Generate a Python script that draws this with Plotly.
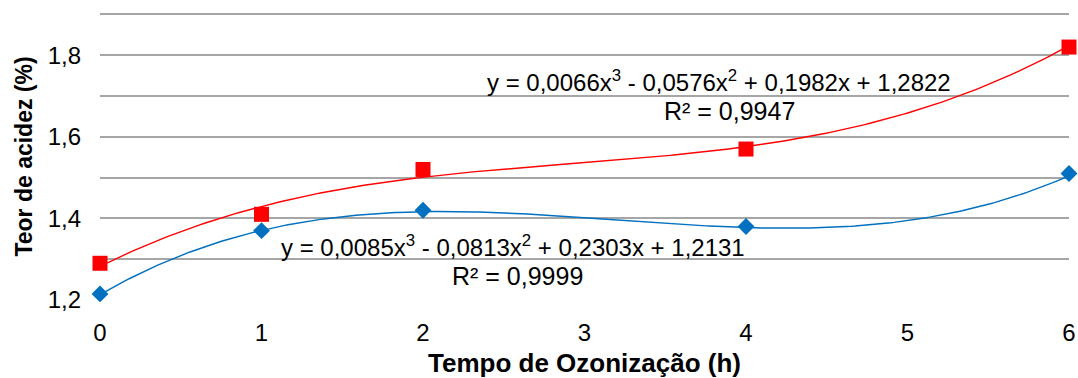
import numpy as np
import plotly.graph_objects as go

# Data
tempo = [0, 1, 2, 4, 6]
serie_vermelha = [1.29, 1.41, 1.52, 1.57, 1.82]
serie_azul = [1.215, 1.37, 1.42, 1.38, 1.51]

# Trendline coefficients (cubic, highest order first) as displayed on the chart
coef_vermelha = [0.0066, -0.0576, 0.1982, 1.2822]
coef_azul = [0.0085, -0.0813, 0.2303, 1.2131]

eq_vermelha = "y = 0,0066x<sup>3</sup> - 0,0576x<sup>2</sup> + 0,1982x + 1,2822"
r2_vermelha = "R² = 0,9947"
eq_azul = "y = 0,0085x<sup>3</sup> - 0,0813x<sup>2</sup> + 0,2303x + 1,2131"
r2_azul = "R² = 0,9999"

x_ticks = [0, 1, 2, 3, 4, 5, 6]
y_ticks = [1.2, 1.3, 1.4, 1.5, 1.6, 1.7, 1.8, 1.9]
y_tick_text = ["1,2", "", "1,4", "", "1,6", "", "1,8", ""]

RED = "#FF0000"
BLUE = "#0070C0"
FONT = "Liberation Sans, Arial, sans-serif"

xs = np.linspace(min(tempo), max(tempo), 300)

fig = go.Figure()
fig.add_trace(go.Scatter(x=xs, y=np.polyval(coef_vermelha, xs), mode="lines",
                         line=dict(color=RED, width=1.4), hoverinfo="skip", showlegend=False))
fig.add_trace(go.Scatter(x=xs, y=np.polyval(coef_azul, xs), mode="lines",
                         line=dict(color=BLUE, width=1.4), hoverinfo="skip", showlegend=False))
fig.add_trace(go.Scatter(x=tempo, y=serie_vermelha, mode="markers",
                         marker=dict(symbol="square", size=15, color=RED), showlegend=False,
                         cliponaxis=False))
fig.add_trace(go.Scatter(x=tempo, y=serie_azul, mode="markers",
                         marker=dict(symbol="diamond", size=13, color=BLUE), showlegend=False,
                         cliponaxis=False))

eq_font = dict(family=FONT, size=24, color="#000000")
r2_font = dict(family=FONT, size=25, color="#000000")
fig.add_annotation(x=3.835, y=1.7366, xref="x", yref="y", text=eq_vermelha,
                   showarrow=False, font=eq_font)
fig.add_annotation(x=3.90, y=1.6634, xref="x", yref="y", text=r2_vermelha,
                   showarrow=False, font=r2_font)
fig.add_annotation(x=2.56, y=1.3317, xref="x", yref="y", text=eq_azul,
                   showarrow=False, font=eq_font)
fig.add_annotation(x=2.585, y=1.2585, xref="x", yref="y", text=r2_azul,
                   showarrow=False, font=r2_font)

fig.update_layout(
    width=1078, height=378,
    margin=dict(l=100, r=9, t=13, b=78),
    paper_bgcolor="white", plot_bgcolor="white",
    font=dict(family=FONT, color="#000000"),
    xaxis=dict(range=[0, 6], tickvals=x_ticks, showgrid=False, zeroline=False,
               showline=False, ticks="", tickfont=dict(size=24), automargin=False,
               ticklabelstandoff=16,
               title=dict(text="<b>Tempo de Ozonização (h)</b>", font=dict(size=26), standoff=8)),
    yaxis=dict(range=[1.2, 1.9035], tickvals=y_ticks, ticktext=y_tick_text,
               showgrid=True, gridcolor="#A6A6A6", gridwidth=1.6,
               zeroline=False, showline=False, ticks="", automargin=False,
               tickfont=dict(size=24), ticklabelstandoff=18,
               title=dict(text="<b>Teor de acidez (%)</b>", font=dict(size=23), standoff=8)),
)

fig.write_html(
    "out.html",
    config={"displayModeBar": False},
    post_script="document.body.style.margin='0';document.body.style.overflow='hidden';",
)
